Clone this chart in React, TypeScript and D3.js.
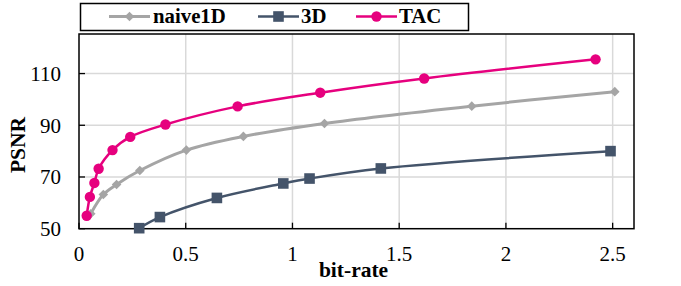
import React from "react";
import * as d3 from "d3";

const xTicks = [0, 0.5, 1, 1.5, 2, 2.5];
const yTicks = [50, 70, 90, 110];

const tacX = [0.036, 0.051, 0.072, 0.092, 0.157, 0.24, 0.405, 0.743, 1.13, 1.617, 2.42];
const tacY = [55.0, 62.3, 67.7, 73.2, 80.4, 85.5, 90.3, 97.3, 102.6, 108.1, 115.5];

const naiveX = [0.055, 0.114, 0.176, 0.285, 0.503, 0.77, 1.15, 1.84, 2.51];
const naiveY = [55.8, 63.2, 67.1, 72.5, 80.4, 85.7, 90.7, 97.4, 103.0];

const d3X = [0.282, 0.379, 0.646, 0.957, 1.08, 1.414, 2.49];
const d3Y = [50.2, 54.5, 61.9, 67.5, 69.4, 73.3, 80.0];

const W = 681;
const H = 286;
const L = 79, R = 634, T = 34, B = 228.7;

const GRAY = "#a5a5a5";
const SLATE = "#44546a";
const PINK = "#e6007e";
const FONT = '"Liberation Serif", "Times New Roman", Times, serif';

type Series = { name: string; xs: number[]; ys: number[]; color: string; marker: "diamond" | "square" | "circle"; width: number };

const series: Series[] = [
  { name: "naive1D", xs: naiveX, ys: naiveY, color: GRAY, marker: "diamond", width: 3 },
  { name: "3D", xs: d3X, ys: d3Y, color: SLATE, marker: "square", width: 2.5 },
  { name: "TAC", xs: tacX, ys: tacY, color: PINK, marker: "circle", width: 2.5 },
];

function Marker({ kind, cx, cy, color }: { kind: string; cx: number; cy: number; color: string }) {
  if (kind === "circle") return <circle cx={cx} cy={cy} r={5.2} fill={color} />;
  if (kind === "square") return <rect x={cx - 5.3} y={cy - 5.3} width={10.6} height={10.6} fill={color} />;
  const s = 4.8;
  return <path d={`M${cx},${cy - s}L${cx + s},${cy}L${cx},${cy + s}L${cx - s},${cy}Z`} fill={color} />;
}

const txt: React.CSSProperties = { fontFamily: FONT };

export default function App() {
  const x = d3.scaleLinear().domain([0, 2.6]).range([L, R]);
  const y = d3.scaleLinear().domain([50, 125.3]).range([B, T]);
  const line = d3
    .line<[number, number]>()
    .x((d) => x(d[0]))
    .y((d) => y(d[1]))
    .curve(d3.curveCatmullRom.alpha(0.5));

  const legendItems = [
    { s: series[0], lx: 109, tx: 153 },
    { s: series[1], lx: 258, tx: 301 },
    { s: series[2], lx: 356, tx: 399 },
  ];

  return (
    <div style={{ position: "absolute", left: 0, top: 0 }}>
      <svg width={W} height={H} style={{ display: "block", background: "#fff", fontFamily: FONT }}>
        <rect x={0} y={0} width={W} height={H} fill="#fff" />
        {xTicks.filter((t) => t > 0).map((t) => (
          <line key={"gx" + t} x1={x(t)} x2={x(t)} y1={T} y2={B} stroke="#d9d9d9" strokeWidth={1.5} />
        ))}
        {yTicks.filter((t) => t > 50).map((t) => (
          <line key={"gy" + t} x1={L} x2={R} y1={y(t)} y2={y(t)} stroke="#d9d9d9" strokeWidth={1.5} />
        ))}
        {xTicks.map((t) => (
          <line key={"tx" + t} x1={x(t)} x2={x(t)} y1={B} y2={B - 6} stroke="#000" strokeWidth={1.3} />
        ))}
        {yTicks.map((t) => (
          <line key={"ty" + t} x1={L} x2={L + 6} y1={y(t)} y2={y(t)} stroke="#000" strokeWidth={1.3} />
        ))}
        <rect x={L} y={T} width={R - L} height={B - T} fill="none" stroke="#000" strokeWidth={1.5} />
        {series.map((s) => {
          const pts = s.xs.map((v, i) => [v, s.ys[i]] as [number, number]);
          return (
            <g key={s.name}>
              <path d={line(pts) || ""} fill="none" stroke={s.color} strokeWidth={s.width} />
              {pts.map((p, i) => (
                <Marker key={i} kind={s.marker} cx={x(p[0])} cy={y(p[1])} color={s.color} />
              ))}
            </g>
          );
        })}
        {xTicks.map((t) => (
          <text key={"lx" + t} x={x(t)} y={261} textAnchor="middle" fontSize={21} fill="#000" style={txt}>
            {d3.format("")(t)}
          </text>
        ))}
        {yTicks.map((t) => (
          <text key={"ly" + t} x={61} y={y(t) + 7.5} textAnchor="end" fontSize={21} fill="#000" style={txt}>
            {t}
          </text>
        ))}
        <text x={353.5} y={277} textAnchor="middle" fontSize={21.5} fontWeight="bold" fill="#000" style={txt}>
          bit-rate
        </text>
        <text
          transform={`translate(${25},${145}) rotate(-90)`}
          textAnchor="middle"
          fontSize={21.5}
          fontWeight="bold"
          fill="#000"
          style={txt}
        >
          PSNR
        </text>
        <rect x={80.5} y={3.5} width={388} height={27} fill="#fff" stroke="#000" strokeWidth={1.5} />
        {legendItems.map(({ s, lx, tx }) => (
          <g key={"lg" + s.name}>
            <line x1={lx} x2={lx + 41} y1={16.5} y2={16.5} stroke={s.color} strokeWidth={s.width} />
            <Marker kind={s.marker} cx={lx + 20.5} cy={16.5} color={s.color} />
            <text x={tx} y={23} fontSize={20.8} fontWeight="bold" fill="#000" style={txt}>
              {s.name}
            </text>
          </g>
        ))}
      </svg>
    </div>
  );
}
